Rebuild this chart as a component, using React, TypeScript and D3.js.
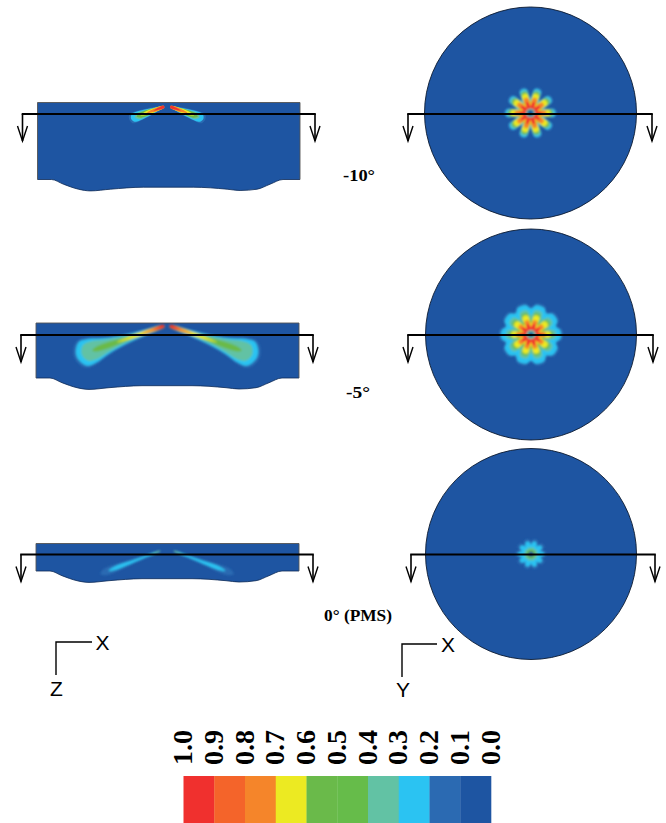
import React from "react";
import * as d3 from "d3";

// ---- colour levels
const legendLabels = ["1.0","0.9","0.8","0.7","0.6","0.5","0.4","0.3","0.2","0.1","0.0"];
const legendColors = ["#f0302e","#f4642a","#f5852a","#ecea22","#6aba4a","#66bc4a","#62c2a4","#2bc3f2","#2b6ab2","#1e55a2"];
const BLUE = "#1e55a2", MID = "#2b6ab2", CYAN = "#2bc3f2", TEAL = "#62c2a4", GREEN = "#6aba4a", YELLOW = "#ecea22", ORANGE = "#f5852a", RED = "#f0302e";

const angleLabels = [
  { text: "-10°", x: 359, y: 181, w: 32 },
  { text: "-5°", x: 358, y: 398, w: 24 },
  { text: "0° (PMS)", x: 358, y: 621, w: 68 },
];

// bottom-edge depth below the flat rim, along the section
const profileX = [0, 14, 26, 41, 53, 73, 106, 156, 190, 203, 220, 233, 246, 263];
const profileDepth = [0, 0, 4.7, 9.7, 11.4, 9.7, 7.7, 7.7, 9.7, 11, 9.7, 4.7, 0, 0];

type Layer = { color: string; along: number[]; half: number[] };

const plumeTop: Layer[] = [
  { color: MID, along: [1, 10, 20, 29, 35, 37], half: [0.6, 3, 4.6, 5.4, 4.8, 0] },
  { color: CYAN, along: [2, 10, 20, 28, 33, 35], half: [0.5, 2.6, 4, 4.7, 4, 0] },
  { color: TEAL, along: [2, 12, 21, 27, 31], half: [0.5, 2.4, 3.4, 3.4, 0] },
  { color: GREEN, along: [2, 12, 21, 26, 29], half: [0.5, 2.1, 2.8, 2.3, 0] },
  { color: YELLOW, along: [1, 10, 18, 25], half: [1, 2, 2, 0] },
  { color: ORANGE, along: [0, 7, 13, 18], half: [1.2, 1.7, 1.2, 0] },
  { color: RED, along: [0, 5, 11], half: [1, 1.1, 0] },
];
const plumeMid: Layer[] = [
  { color: MID, along: [0, 20, 45, 62, 76, 86, 92, 95], half: [0.9, 3.4, 6, 9.6, 14, 14.5, 9.5, 0] },
  { color: CYAN, along: [0, 20, 45, 62, 76, 85, 90, 92.5], half: [0.7, 2.7, 5, 8.4, 12.5, 12.8, 8, 0] },
  { color: TEAL, along: [3, 25, 45, 60, 74, 83, 87], half: [0.5, 2, 3.8, 6.4, 9.4, 8.2, 0] },
  { color: GREEN, along: [6, 28, 48, 62, 71, 76], half: [0.7, 1.7, 2.4, 3, 2.4, 0] },
  { color: YELLOW, along: [3, 20, 36, 50], half: [1.1, 1.8, 1.3, 0] },
  { color: ORANGE, along: [0, 8, 16, 24], half: [1.3, 1.8, 1.1, 0] },
  { color: RED, along: [0, 5, 12], half: [1.1, 1.2, 0] },
];
const plumeLow: Layer[] = [
  { color: MID, along: [0, 15, 35, 52, 60, 64], half: [0.5, 1.6, 2.6, 3.8, 3, 0] },
  { color: CYAN, along: [3, 18, 36, 48, 55], half: [0.5, 1, 1.7, 1.8, 0] },
  { color: TEAL, along: [0, 5, 11], half: [0.6, 0.7, 0] },
];

// petal silhouette: fraction between notch and tip, per sample around a petal
const petalShape = [1, 0.86, 0, 0.86];

const flowerTop = [
  { color: MID, tip: 26.5, notch: 15.5 },
  { color: CYAN, tip: 25, notch: 14.5 },
  { color: TEAL, tip: 23.5, notch: 13 },
  { color: GREEN, tip: 22, notch: 12 },
  { color: YELLOW, tip: 20, notch: 10.5 },
  { color: ORANGE, tip: 16, notch: 8 },
  { color: RED, tip: 11.5, notch: 6 },
];
const coreTop = [{ color: TEAL, r: 4.6 }, { color: BLUE, r: 3 }];
const flowerMid = [
  { color: MID, tip: 32, notch: 27.5 },
  { color: CYAN, tip: 30, notch: 26 },
  { color: TEAL, tip: 25, notch: 19 },
  { color: GREEN, tip: 22, notch: 14 },
  { color: YELLOW, tip: 20, notch: 11 },
  { color: ORANGE, tip: 15, notch: 8 },
  { color: RED, tip: 11, notch: 6 },
];
const coreMid = [{ color: TEAL, r: 4.6 }, { color: BLUE, r: 2.6 }];
const flowerLow = [
  { color: MID, tip: 15.5, notch: 12 },
  { color: CYAN, tip: 13, notch: 9.5 },
  { color: TEAL, tip: 7, notch: 5.5 },
];
const coreLow = [{ color: GREEN, r: 4.5 }, { color: BLUE, r: 2.6 }];

const rows = [
  { x0: 37.5, x1: 300, top: 102.5, depth: 77, apexL: 164, apexR: 170.5, apexY: 106.7, tilt: 20, plume: plumeTop, blur: 0.7,
    cx: 530.5, cy: 113, r: 106, flower: flowerTop, core: coreTop,
    lineY: 114, lx0: 22.5, lx1: 315, rx0: 408, rx1: 652 },
  { x0: 36, x1: 299, top: 323, depth: 55, apexL: 164, apexR: 170, apexY: 326, tilt: 19, plume: plumeMid, blur: 1.1,
    cx: 531, cy: 334.5, r: 105.5, flower: flowerMid, core: coreMid,
    lineY: 335, lx0: 21, lx1: 313, rx0: 408, rx1: 653 },
  { x0: 36, x1: 299, top: 543.5, depth: 27.5, apexL: 160, apexR: 174, apexY: 551, tilt: 21, plume: plumeLow, blur: 1,
    cx: 531, cy: 554, r: 105.5, flower: flowerLow, core: coreLow,
    lineY: 554.5, lx0: 21, lx1: 313, rx0: 411, rx1: 655 },
];

const axesGlyphs = [
  { cx: 56, cy: 642, right: 92, down: 675, hLabel: "X", hx: 102.5, hy: 649.5, vLabel: "Z", vx: 56.5, vy: 696 },
  { cx: 402, cy: 644, right: 437, down: 677, hLabel: "X", hx: 448, hy: 651.5, vLabel: "Y", vx: 403, vy: 697 },
];

const SANS = "Liberation Sans, Arial, sans-serif";
const SERIF = "Liberation Serif, Times New Roman, serif";

const closedLine = d3.line<[number, number]>().x(d => d[0]).y(d => d[1]).curve(d3.curveCatmullRomClosed.alpha(0.5));
function plumePath(l: Layer) {
  const upper = l.along.map((a, i) => [a, -l.half[i]] as [number, number]);
  const lower = l.along.map((a, i) => [a, l.half[i]] as [number, number]).filter(p => p[1] !== 0).reverse();
  return closedLine([...upper, ...lower]) as string;
}
function flowerPath(tip: number, notch: number) {
  const perPetal = petalShape.length;
  const n = 10 * perPetal;
  const radial = d3.lineRadial<number>()
    .angle(i => (i / n) * 2 * Math.PI + Math.PI / 2)
    .radius(i => notch + (tip - notch) * petalShape[i % perPetal])
    .curve(d3.curveCatmullRomClosed.alpha(0.5));
  return radial(d3.range(n)) as string;
}

function Section({ x0, x1, y, bottom }: { x0: number; x1: number; y: number; bottom: number }) {
  const arrow = (x: number) => (
    <g fill="none" stroke="#000" strokeWidth={1.4}>
      <line x1={x} x2={x} y1={y} y2={bottom} strokeWidth={1.6} />
      <polyline points={`${x - 5},${bottom - 15} ${x},${bottom} ${x + 5},${bottom - 15}`} />
    </g>
  );
  return (
    <g>
      <line x1={x0 - 0.8} x2={x1 + 0.8} y1={y} y2={y} stroke="#000" strokeWidth={1.8} />
      {arrow(x0)}
      {arrow(x1)}
    </g>
  );
}

export default function App() {
  const legendX = d3.scaleBand<number>().domain(d3.range(legendColors.length)).range([183.5, 491]);
  const labelX = d3.scalePoint<string>().domain(legendLabels).range([183.5, 491]);
  return (
    <svg width={666} height={823} viewBox="0 0 666 823"
      style={{ position: "absolute", left: 0, top: 0, background: "#fff" }}>
      <defs>
        <filter id="soft" x="-30%" y="-30%" width="160%" height="160%">
          <feGaussianBlur stdDeviation={0.8} />
        </filter>
        {rows.map((row, k) => (
          <filter key={k} id={`plume${k}`} x="-30%" y="-100%" width="160%" height="300%">
            <feGaussianBlur stdDeviation={row.blur} />
          </filter>
        ))}
      </defs>

      {rows.map((row, k) => {
        const sx = d3.scaleLinear().domain([0, 263]).range([row.x0, row.x1]);
        const yBase = row.top + row.depth;
        const bottom = d3.line<number>()
          .x(i => sx(profileX[i]))
          .y(i => yBase + profileDepth[i])
          .curve(d3.curveMonotoneX)(d3.range(profileX.length)) as string;
        return (
          <g key={k}>
            {/* side section */}
            <path d={`${bottom}L${row.x1},${row.top}L${row.x0},${row.top}Z`} fill={BLUE} />
            <path d={bottom} fill="none" stroke="#0c2a55" strokeWidth={0.8} />
            <path d={`M${row.x0},${yBase}L${row.x0},${row.top}L${row.x1},${row.top}L${row.x1},${yBase}`}
              fill="none" stroke="#555" strokeWidth={0.9} />
            <g filter={`url(#plume${k})`}>
              <g transform={`translate(${row.apexL},${row.apexY}) rotate(${180 - row.tilt})`}>
                {row.plume.map((l, i) => <path key={i} d={plumePath(l)} fill={l.color} />)}
              </g>
              <g transform={`translate(${row.apexR},${row.apexY}) rotate(${row.tilt})`}>
                {row.plume.map((l, i) => <path key={i} d={plumePath(l)} fill={l.color} />)}
              </g>
            </g>
            <Section x0={row.lx0} x1={row.lx1} y={row.lineY} bottom={row.lineY + 27} />

            {/* plan view */}
            <circle cx={row.cx} cy={row.cy} r={row.r} fill={BLUE} stroke="#0b1a30" strokeWidth={0.9} />
            <g transform={`translate(${row.cx},${row.cy})`} filter="url(#soft)">
              {row.flower.map((f, i) => <path key={i} d={flowerPath(f.tip, f.notch)} fill={f.color} />)}
              {row.core.map((c, i) => <circle key={i} r={c.r} fill={c.color} />)}
            </g>
            <Section x0={row.rx0} x1={row.rx1} y={row.lineY} bottom={row.lineY + 27} />
          </g>
        );
      })}

      {angleLabels.map(l => (
        <text key={l.text} x={l.x - l.w / 2} y={l.y} fontFamily={SERIF} fontWeight="bold" fontSize={16}
          textLength={l.w} lengthAdjust="spacingAndGlyphs">{l.text}</text>
      ))}

      {axesGlyphs.map((a, i) => (
        <g key={i}>
          <polyline points={`${a.right},${a.cy} ${a.cx},${a.cy} ${a.cx},${a.down}`} fill="none" stroke="#000" strokeWidth={1.4} />
          <text x={a.hx} y={a.hy} textAnchor="middle" fontFamily={SANS} fontSize={21}>{a.hLabel}</text>
          <text x={a.vx} y={a.vy} textAnchor="middle" fontFamily={SANS} fontSize={21}>{a.vLabel}</text>
        </g>
      ))}

      {legendColors.map((c, i) => (
        <rect key={i} x={legendX(i)} y={776} width={legendX.bandwidth() + 0.3} height={47} fill={c} />
      ))}
      {legendLabels.map(l => (
        <text key={l} transform={`translate(${(labelX(l) as number) + 8.5},765) rotate(-90)`}
          fontFamily={SERIF} fontWeight="bold" fontSize={27} textLength={35} lengthAdjust="spacingAndGlyphs">{l}</text>
      ))}
    </svg>
  );
}
